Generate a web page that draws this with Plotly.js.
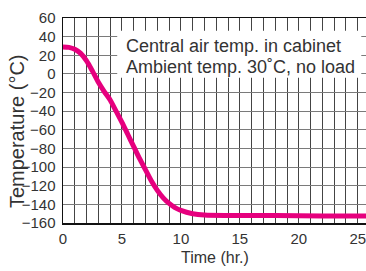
<!DOCTYPE html>
<html>
<head>
<meta charset="utf-8">
<script src="https://cdn.plot.ly/plotly-3.0.1.min.js"></script>
<style>html,body{margin:0;padding:0;background:#fff;}#chart{width:366px;height:271px;}</style>
</head>
<body>
<div id="chart"></div>
<script>
// Data
var timeHr = [0, 0.5, 1, 1.5, 2, 2.5, 3, 3.5, 4, 4.5, 5, 5.5, 6, 6.5, 7, 7.5, 8, 8.5, 9, 9.5, 10, 11, 12, 14, 18, 22, 25.7];
var tempC  = [29, 28.5, 26.5, 22, 14, 3, -9, -19, -28, -40, -52, -65, -78, -91, -103, -115, -125, -133, -139, -143.5, -146.5, -150, -151.5, -152, -152, -152.5, -152.5];
var xTickVals = [0,1,2,3,4,5,6,7,8,9,10,11,12,13,14,15,16,17,18,19,20,21,22,23,24,25];
var xTickText = ['0','','','','','5','','','','','10','','','','','15','','','','','20','','','','','25'];
var yTickVals = [60, 40, 20, 0, -20, -40, -60, -80, -100, -120, -140, -160];
var noteLines = ['Central air temp. in cabinet', 'Ambient temp. 30˚C, no load'];
var xTitle = 'Time (hr.)';
var yTitle = 'Temperature (°C)';

var font = 'Liberation Sans, Arial, sans-serif';

var trace = {
  x: timeHr, y: tempC, type: 'scatter', mode: 'lines',
  line: {color: '#e6007e', width: 5, shape: 'spline', smoothing: 0.8},
  hoverinfo: 'skip'
};

var layout = {
  width: 366, height: 271,
  margin: {l: 62.7, r: 0, t: 18.3, b: 47.7},
  paper_bgcolor: '#fff', plot_bgcolor: '#fff',
  showlegend: false,
  font: {family: font, color: '#333', size: 15},
  xaxis: {
    range: [0, 25.7], tickmode: 'array', tickvals: xTickVals, ticktext: xTickText,
    showgrid: true, gridcolor: '#444', gridwidth: 1,
    showline: true, linecolor: '#111', linewidth: 1.5, mirror: true,
    ticks: 'outside', ticklen: 1, tickcolor: 'rgba(0,0,0,0)',
    ticklabeloverflow: 'allow',
    zeroline: false, tickfont: {family: font, size: 15, color: '#333'}
  },
  yaxis: {
    range: [-160, 60], tickmode: 'array', tickvals: yTickVals,
    showgrid: true, gridcolor: '#7a7a7a', gridwidth: 1,
    showline: true, linecolor: '#111', linewidth: 1.5, mirror: true,
    ticks: 'outside', ticklen: 3, tickcolor: 'rgba(0,0,0,0)',
    zeroline: false, tickfont: {family: font, size: 15, color: '#333'}
  },
  shapes: [{
    type: 'rect', xref: 'x', yref: 'y', x0: 4.6, x1: 25.3, y0: -4.1, y1: 46.4,
    fillcolor: '#fff', line: {width: 0}, layer: 'above'
  }],
  annotations: [
    {text: noteLines[0], xref: 'x', yref: 'y', x: 5.2, y: 30.3, xanchor: 'left', yanchor: 'middle',
     showarrow: false, font: {family: font, size: 18, color: '#333'}},
    {text: noteLines[1], xref: 'x', yref: 'y', x: 5.2, y: 7.1, xanchor: 'left', yanchor: 'middle',
     showarrow: false, font: {family: font, size: 18, color: '#333'}},
    {text: xTitle, xref: 'paper', yref: 'paper', x: 0.5, y: -0.17, xanchor: 'center', yanchor: 'middle',
     showarrow: false, font: {family: font, size: 16, color: '#333'}},
    {text: yTitle, xref: 'paper', yref: 'paper', x: -0.154, y: 0.45, xanchor: 'center', yanchor: 'middle',
     textangle: -90, showarrow: false, font: {family: font, size: 20, color: '#333'}}
  ]
};

Plotly.newPlot('chart', [trace], layout, {displayModeBar: false, staticPlot: true});
</script>
</body>
</html>
